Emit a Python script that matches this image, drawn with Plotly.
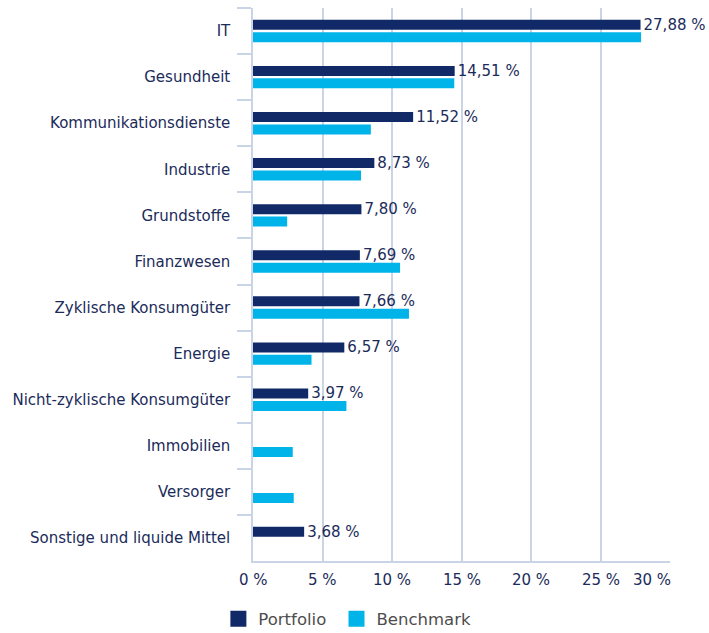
import plotly.graph_objects as go

categories = ["IT", "Gesundheit", "Kommunikationsdienste", "Industrie", "Grundstoffe",
              "Finanzwesen", "Zyklische Konsumgüter", "Energie", "Nicht-zyklische Konsumgüter",
              "Immobilien", "Versorger", "Sonstige und liquide Mittel"]
portfolio = [27.88, 14.51, 11.52, 8.73, 7.80, 7.69, 7.66, 6.57, 3.97, None, None, 3.68]
benchmark = [27.92, 14.48, 8.48, 7.77, 2.46, 10.58, 11.22, 4.21, 6.72, 2.86, 2.93, None]
tick_vals = [0, 5, 10, 15, 20, 25, 30]
tick_text = ["0 %", "5 %", "10 %", "15 %", "20 %", "25 %", "30 %"]
legend_names = ["Portfolio", "Benchmark"]

navy = "#112a67"
cyan = "#00b4ea"
grid = "#c9d5e7"
text_col = "#1b2b5a"
font_fam = "DejaVu Sans, Verdana, sans-serif"

fig = go.Figure()
fig.add_trace(go.Bar(
    name=legend_names[0], y=categories, x=portfolio, orientation="h",
    marker=dict(color=navy, line=dict(width=0)),
    texttemplate="%{x:.2f} %", textposition="outside", constraintext="none",
    cliponaxis=False, textfont=dict(size=15, color=text_col, family=font_fam),
    hoverinfo="skip", showlegend=False))
fig.add_trace(go.Bar(
    name=legend_names[1], y=categories, x=benchmark, orientation="h",
    marker=dict(color=cyan, line=dict(width=0)), hoverinfo="skip", showlegend=False))

# legend entries with larger square swatches
for name, col in [(legend_names[0] + "\u00a0", navy), (legend_names[1], cyan)]:
    fig.add_trace(go.Scatter(name=name, x=[None], y=[None], mode="markers",
                             marker=dict(symbol="square", size=16, color=col),
                             showlegend=True, hoverinfo="skip"))

for v, t in zip(tick_vals, tick_text):
    last = v == tick_vals[-1]
    fig.add_annotation(x=v, y=0, xref="x", yref="paper", text=t, showarrow=False,
                       xanchor="right" if last else "center", yanchor="top",
                       xshift=3 if last else 0, yshift=-8,
                       font=dict(size=15, color=text_col, family=font_fam))

fig.update_layout(
    width=709, height=633,
    margin=dict(l=253, r=39, t=8, b=72),
    paper_bgcolor="white", plot_bgcolor="white",
    barmode="group", bargap=0.46, bargroupgap=0.2,
    separators=", ",
    font=dict(family=font_fam, size=15, color=text_col),
    showlegend=True,
    legend=dict(orientation="h", xref="container", yref="container",
                x=0.308, xanchor="left", y=0.022, yanchor="middle",
                font=dict(size=16.5, color="#4d4d4d", family=font_fam),
                itemwidth=30, traceorder="normal", itemsizing="trace"),
    xaxis=dict(range=[0, 30], tickvals=tick_vals, showticklabels=False,
               showgrid=True, gridcolor=grid, gridwidth=1.5,
               showline=True, linecolor=grid, linewidth=1.5, zeroline=False,
               fixedrange=True),
    yaxis=dict(autorange="reversed", showline=True, linecolor=grid, linewidth=1.5,
               ticks="outside", tickson="boundaries", ticklen=14, tickcolor=grid,
               tickwidth=1.5, ticklabelstandoff=18,
               tickfont=dict(size=15, color=text_col, family=font_fam),
               showgrid=False, fixedrange=True),
)

fig.write_html("out.html", config={"displayModeBar": False},
               post_script="document.body.style.margin='0';document.body.style.overflow='hidden';")
